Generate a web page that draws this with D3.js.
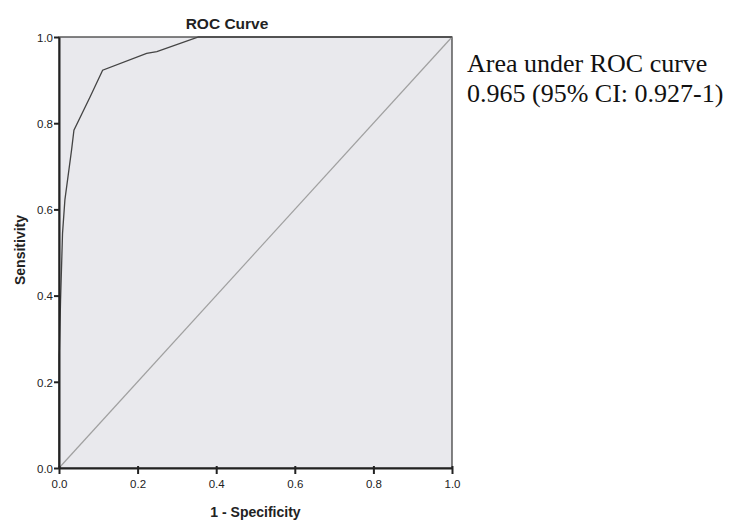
<!DOCTYPE html>
<html>
<head>
<meta charset="utf-8">
<script src="https://cdn.jsdelivr.net/npm/d3@7"></script>
<style>
  body { margin: 0; background: #fff; }
  svg { display: block; }
  .tick text { font-family: "Liberation Sans", Arial, sans-serif; font-size: 11.5px; fill: #222; }
  .axis path, .axis line { stroke: #222; }
  .label-text { font-family: "Liberation Sans", Arial, sans-serif; font-weight: bold; font-size: 14px; fill: #222; }
  .title-text { font-size: 15.5px; }
  .note { font-family: "Liberation Serif", "Times New Roman", serif; font-size: 26px; fill: #111; }
</style>
</head>
<body>
<div id="chart"></div>
<script>
// ROC points
const fpr = [0, 0, 0.001, 0.004, 0.009, 0.015, 0.032, 0.038, 0.079, 0.111, 0.223, 0.249, 0.355, 1];
const tpr = [0, 0.262, 0.274, 0.39, 0.545, 0.622, 0.738, 0.784, 0.861, 0.923, 0.962, 0.966, 1, 1];
const ticks = [0, 0.2, 0.4, 0.6, 0.8, 1.0];
const noteLines = ['Area under ROC curve', '0.965 (95% CI: 0.927-1)'];

const width = 732, height = 523;
const margins = { top: 37, right: 280, bottom: 55, left: 59 };
const chartWidth = width - margins.left - margins.right;
const chartHeight = height - margins.top - margins.bottom;

const svg = d3.select('#chart').append('svg')
  .attr('width', width)
  .attr('height', height);

const plotG = svg.append('g')
  .attr('transform', `translate(${margins.left},${margins.top})`);

const xScale = d3.scaleLinear().domain([0, 1]).range([0, chartWidth]);
const yScale = d3.scaleLinear().domain([0, 1]).range([chartHeight, 0]);

plotG.append('rect')
  .attr('width', chartWidth)
  .attr('height', chartHeight)
  .attr('fill', '#e9e9ed')
  .attr('stroke', '#333')
  .attr('stroke-width', 1.2);

// reference diagonal
plotG.append('line')
  .attr('x1', xScale(0)).attr('y1', yScale(0))
  .attr('x2', xScale(1)).attr('y2', yScale(1))
  .attr('stroke', '#a0a0a0')
  .attr('stroke-width', 1.2);

const line = d3.line()
  .x((d, i) => xScale(fpr[i]))
  .y((d, i) => yScale(tpr[i]));

plotG.append('path')
  .attr('d', line(fpr))
  .attr('fill', 'none')
  .attr('stroke', '#444')
  .attr('stroke-width', 1.3);

const fmt = d3.format('.1f');

const xAxisEl = plotG.append('g')
  .attr('class', 'x axis')
  .attr('transform', `translate(0,${chartHeight})`)
  .call(d3.axisBottom(xScale).tickValues(ticks).tickFormat(fmt).tickSize(6).tickSizeOuter(0).tickPadding(6));

const yAxisEl = plotG.append('g')
  .attr('class', 'y axis')
  .call(d3.axisLeft(yScale).tickValues(ticks).tickFormat(fmt).tickSize(5).tickSizeOuter(0).tickPadding(1));

xAxisEl.select('.domain').attr('stroke-width', 2);
yAxisEl.select('.domain').attr('stroke-width', 2);
xAxisEl.selectAll('.tick line').attr('stroke-width', 2);
yAxisEl.selectAll('.tick line').attr('stroke-width', 2);

// x ticks sit below the axis line, y ticks hang on the line
xAxisEl.selectAll('.tick line').attr('y1', -2).attr('y2', 6);
yAxisEl.selectAll('.tick text').attr('dy', '0.38em');

svg.append('text')
  .attr('class', 'label-text title-text')
  .attr('x', 227)
  .attr('y', 29)
  .style('text-anchor', 'middle')
  .text('ROC Curve');

svg.append('text')
  .attr('class', 'label-text')
  .attr('x', margins.left + chartWidth / 2)
  .attr('y', 517)
  .style('text-anchor', 'middle')
  .text('1 - Specificity');

svg.append('text')
  .attr('class', 'label-text')
  .attr('transform', 'rotate(-90)')
  .attr('x', -250)
  .attr('y', 25)
  .style('text-anchor', 'middle')
  .text('Sensitivity');

svg.append('g')
  .selectAll('text')
  .data(noteLines)
  .enter()
  .append('text')
  .attr('class', 'note')
  .attr('x', 467)
  .attr('y', (d, i) => 72 + i * 30)
  .text(d => d);
</script>
</body>
</html>
